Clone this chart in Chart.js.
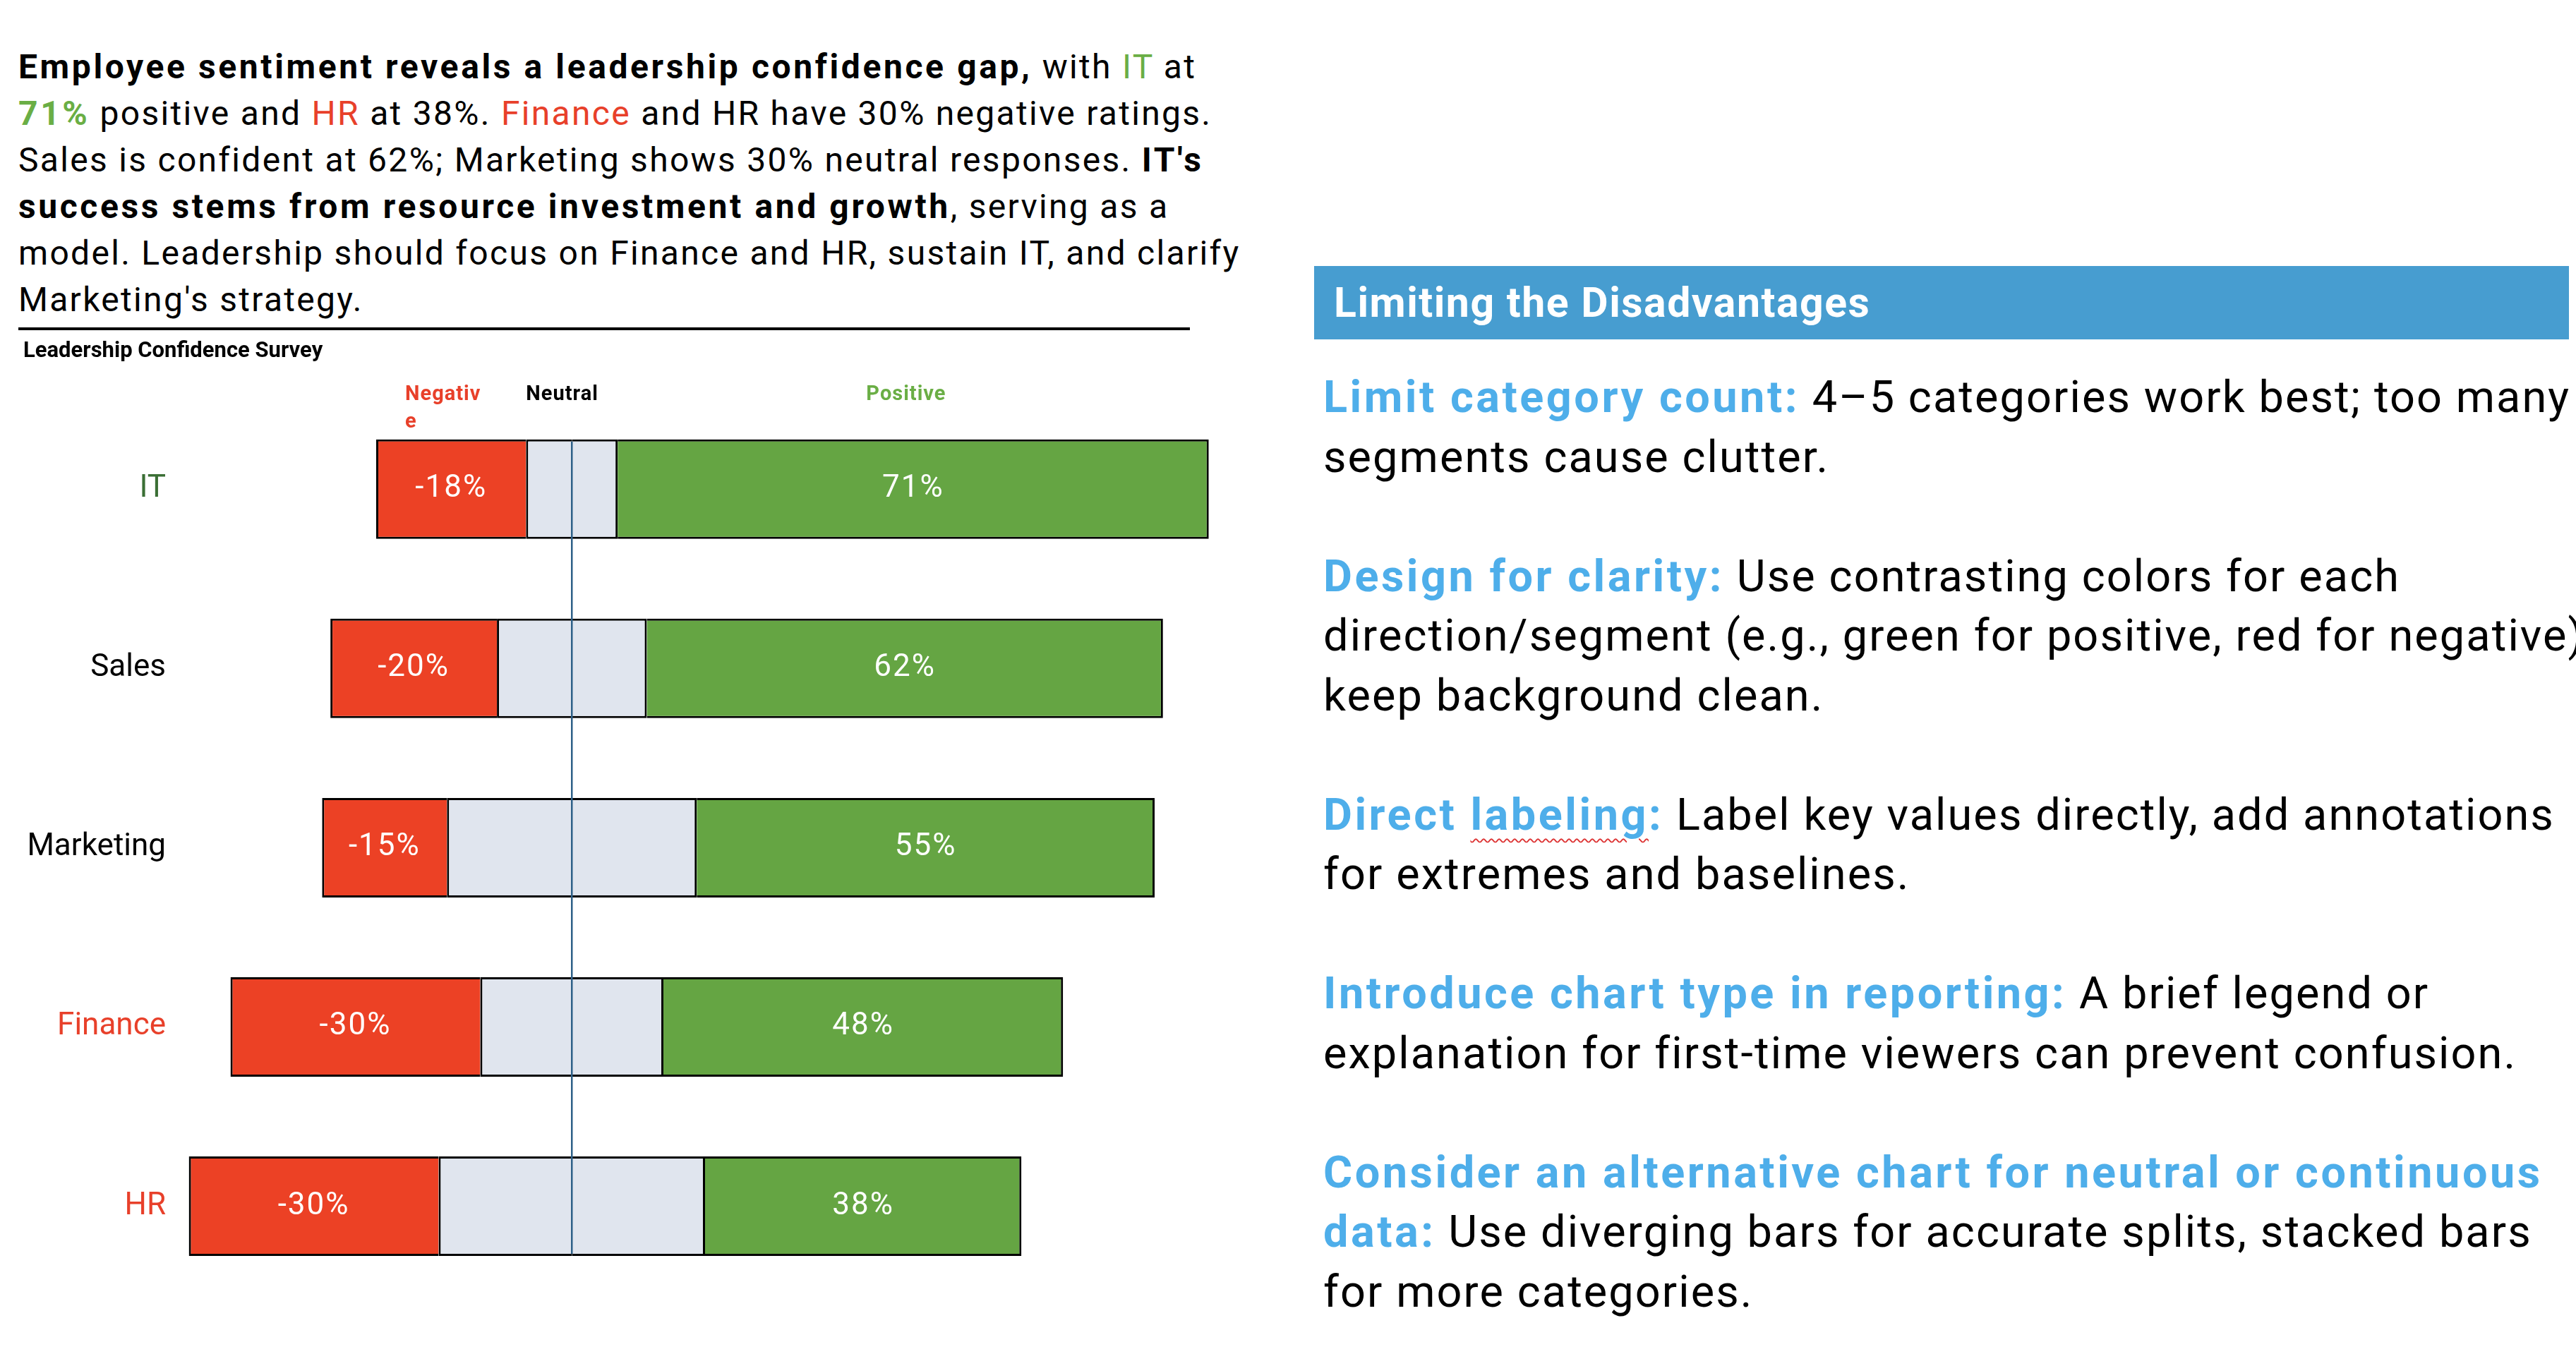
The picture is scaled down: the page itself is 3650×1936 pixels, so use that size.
<!DOCTYPE html>
<html lang="en">
<head>
  <meta charset="UTF-8" />
  <title>Leadership Confidence Survey</title>
  <script src="https://cdn.jsdelivr.net/npm/chart.js"></script>
  <style>
    html, body {
      margin: 0;
      padding: 0;
      background: #fff;
      width: 3650px;
      height: 1936px;
      overflow: hidden;
      font-family: Roboto, "Noto Sans", sans-serif;
      color: #000;
    }

    .summary {
      position: absolute;
      left: 26px;
      top: 62px;
      font-size: 48px;
      line-height: 66px;
      letter-spacing: 2.3px;
      white-space: nowrap;
    }

    .summary b { letter-spacing: 3.6px; }

    .rule {
      position: absolute;
      left: 26px;
      top: 464px;
      width: 1660px;
      height: 4px;
      background: #000;
    }

    .chart-box {
      position: absolute;
      left: 26px;
      top: 470px;
      width: 1728px;
      height: 1402px;
    }

    .panel-head {
      position: absolute;
      left: 1862px;
      top: 377px;
      width: 1778px;
      height: 104px;
      background: #479DD0;
      color: #fff;
      font-weight: bold;
      font-size: 59px;
      letter-spacing: 1.5px;
      line-height: 104px;
      padding-left: 28px;
      box-sizing: border-box;
      white-space: nowrap;
    }

    .tips {
      position: absolute;
      left: 1875px;
      top: 521px;
      font-size: 63px;
      line-height: 84.5px;
      letter-spacing: 2.1px;
      white-space: nowrap;
    }

    .tips p {
      margin: 0 0 84.5px 0;
    }

    .hl { color: #4EAEEA; font-weight: bold; letter-spacing: 3.5px; }
    .green { color: #6AAE45; }
    .red { color: #E8402A; }
    .wavy { text-decoration: underline wavy #d33; text-decoration-thickness: 2px; text-underline-offset: 12px; }
  </style>
</head>
<body>
  <div class="summary">
    <b>Employee sentiment reveals a leadership confidence gap,</b> with <span class="green">IT</span> at<br>
    <b class="green">71%</b> positive and <span class="red">HR</span> at 38%. <span class="red">Finance</span> and HR have 30% negative ratings.<br>
    Sales is confident at 62%; Marketing shows 30% neutral responses. <b>IT's</b><br>
    <b>success stems from resource investment and growth</b>, serving as a<br>
    model. Leadership should focus on Finance and HR, sustain IT, and clarify<br>
    Marketing's strategy.
  </div>
  <div class="rule"></div>

  <div class="chart-box">
    <canvas id="chart"></canvas>
  </div>

  <div class="panel-head">Limiting the Disadvantages</div>
  <div class="tips">
    <p><span class="hl">Limit category count:</span> 4–5 categories work best; too many<br>segments cause clutter.</p>
    <p><span class="hl">Design for clarity:</span> Use contrasting colors for each<br>direction/segment (e.g., green for positive, red for negative),<br>keep background clean.</p>
    <p><span class="hl">Direct <span class="wavy">labeling</span>:</span> Label key values directly, add annotations<br>for extremes and baselines.</p>
    <p><span class="hl">Introduce chart type in reporting:</span> A brief legend or<br>explanation for first-time viewers can prevent confusion.</p>
    <p><span class="hl">Consider an alternative chart for neutral or continuous<br>data:</span> Use diverging bars for accurate splits, stacked bars<br>for more categories.</p>
  </div>

  <script>
    // === data ===
    const departments = ["IT", "Sales", "Marketing", "Finance", "HR"];
    const negative = [18, 20, 15, 30, 30];
    const neutral = [11, 18, 30, 22, 32];
    const positive = [71, 62, 55, 48, 38];
    const deptColors = ["#3B6F35", "#000000", "#000000", "#E8402A", "#E8402A"];
    const legendNames = ["Negativ\ne", "Neutral", "Positive"];

    const RED = "#EC4125";
    const GREEN = "#65A543";
    const GREY = "#E0E5EE";

    // neutral is split in half around zero
    const neutralLeft = neutral.map(v => -v / 2);
    const neutralRight = neutral.map(v => v / 2);
    const negValues = negative.map(v => -v);

    // === labels inside bars, legend over the first bar, zero line ===
    const decorations = {
      id: "decorations",
      afterDatasetsDraw(chart) {
        const ctx = chart.ctx;
        const x = chart.scales.x;
        const nl = chart.getDatasetMeta(0).data;
        const ng = chart.getDatasetMeta(2).data;
        const ps = chart.getDatasetMeta(3).data;

        // zero line
        const zx = x.getPixelForValue(0);
        const top = nl[0].y - nl[0].height / 2 + 3;
        const last = nl[nl.length - 1];
        const bottom = last.y + last.height / 2 - 3;
        ctx.save();
        ctx.strokeStyle = "#2E6088";
        ctx.lineWidth = 2.5;
        ctx.beginPath();
        ctx.moveTo(zx, top);
        ctx.lineTo(zx, bottom);
        ctx.stroke();

        // value labels
        ctx.fillStyle = "#fff";
        ctx.font = "44px Roboto";
        ctx.letterSpacing = "2px";
        ctx.textAlign = "center";
        ctx.textBaseline = "middle";
        ng.forEach((el, i) => {
          ctx.fillText(negValues[i] + "%", (el.x + el.base) / 2, el.y);
        });
        ps.forEach((el, i) => {
          ctx.fillText(positive[i] + "%", (el.x + el.base) / 2, el.y);
        });

        // legend labels above the first bar
        const barTop = ng[0].y - ng[0].height / 2;
        ctx.font = "bold 29px Roboto";
        ctx.letterSpacing = "1px";
        ctx.textAlign = "left";
        const negLines = legendNames[0].split("\n");
        ctx.fillStyle = "#E8402A";
        ctx.fillText(negLines[0], ng[0].x + 41, barTop - 63);
        ctx.fillText(negLines[1], ng[0].x + 41, barTop - 24);
        ctx.fillStyle = "#000";
        ctx.fillText(legendNames[1], nl[0].x, barTop - 63);
        ctx.fillStyle = "#6AAE45";
        ctx.textAlign = "center";
        ctx.fillText(legendNames[2], (ps[0].x + ps[0].base) / 2 - 10, barTop - 63);
        ctx.restore();
      }
    };

    const common = {
      borderColor: "#000",
      borderWidth: 3,
      borderSkipped: "start",
      barPercentage: 0.555,
      categoryPercentage: 1.0
    };

    new Chart(document.getElementById("chart"), {
      type: "bar",
      data: {
        labels: departments,
        datasets: [
          { label: "Neutral", data: neutralLeft, backgroundColor: GREY, ...common },
          { label: "Neutral", data: neutralRight, backgroundColor: GREY, ...common },
          { label: "Negative", data: negValues, backgroundColor: RED, ...common },
          { label: "Positive", data: positive, backgroundColor: GREEN, ...common }
        ]
      },
      options: {
        indexAxis: "y",
        responsive: true,
        maintainAspectRatio: false,
        animation: false,
        layout: { padding: { left: 7 } },
        plugins: {
          legend: { display: false },
          tooltip: { enabled: false },
          title: {
            display: true,
            text: "Leadership Confidence Survey",
            align: "start",
            color: "#000",
            font: { family: "Roboto", size: 31, weight: "bold" },
            padding: { top: 10, bottom: 49 }
          }
        },
        scales: {
          x: {
            stacked: true,
            min: -48,
            max: 80,
            display: false
          },
          y: {
            stacked: true,
            border: { display: false },
            grid: { display: false, drawTicks: false },
            ticks: {
              padding: 9,
              color: c => deptColors[c.index],
              font: { family: "Roboto", size: 44 }
            },
            afterFit(scale) { scale.width = 211; }
          }
        }
      },
      plugins: [decorations]
    });
  </script>
</body>
</html>
